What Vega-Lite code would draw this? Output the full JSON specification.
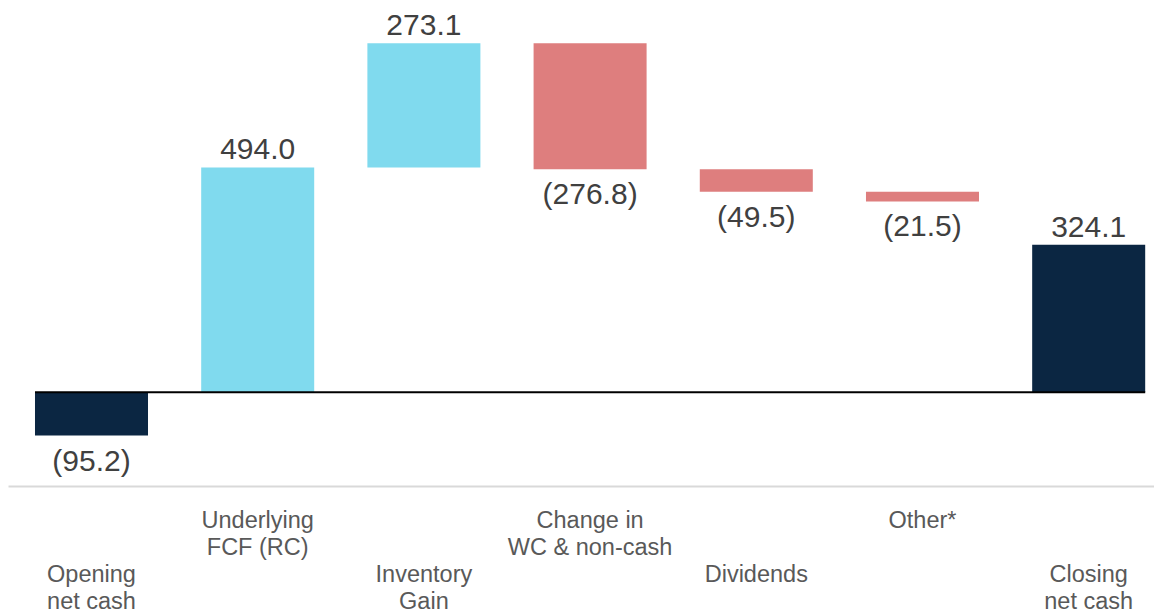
{
  "$schema": "https://vega.github.io/schema/vega-lite/v6.json",
  "width": 1146,
  "height": 486,
  "autosize": {"type": "none"},
  "padding": {"left": 8, "top": 0, "right": 0, "bottom": 127},
  "background": "white",
  "config": {"view": {"stroke": null}, "font": "Liberation Sans"},
  "data": {
    "values": [
      {"category": "Opening\nnet cash", "start": 0, "end": -95.2, "kind": "total", "label": "(95.2)"},
      {"category": "Underlying\nFCF (RC)", "start": 0, "end": 494.0, "kind": "increase", "label": "494.0"},
      {"category": "Inventory\nGain", "start": 494.0, "end": 767.1, "kind": "increase", "label": "273.1"},
      {"category": "Change in\nWC & non-cash", "start": 767.1, "end": 490.3, "kind": "decrease", "label": "(276.8)"},
      {"category": "Dividends", "start": 490.3, "end": 440.8, "kind": "decrease", "label": "(49.5)"},
      {"category": "Other*", "start": 440.8, "end": 419.3, "kind": "decrease", "label": "(21.5)"},
      {"category": "Closing\nnet cash", "start": 0, "end": 324.1, "kind": "total", "label": "324.1"}
    ]
  },
  "encoding": {
    "x": {
      "field": "category",
      "type": "nominal",
      "sort": null,
      "scale": {"paddingInner": 0.32, "paddingOuter": 0.1077, "align": 0.754},
      "axis": {
        "title": null,
        "domain": true,
        "domainColor": "#d9d9d9",
        "domainWidth": 2,
        "ticks": false,
        "tickSize": 0,
        "labelAngle": 0,
        "labelExpr": "split(datum.value, '\\n')",
        "labelFontSize": 23.5,
        "labelColor": "#595959",
        "labelLineHeight": 27,
        "labelBaseline": "top",
        "labelFont": "Liberation Sans",
        "labelPadding": {"condition": {"test": "round(datum.index*6) % 2 == 0", "value": 76}, "value": 22}
      }
    }
  },
  "layer": [
    {
      "mark": {"type": "bar"},
      "encoding": {
        "y": {"field": "start", "type": "quantitative", "scale": {"domain": [-206, 862], "nice": false, "zero": false}, "axis": null},
        "y2": {"field": "end"},
        "color": {
          "field": "kind",
          "type": "nominal",
          "scale": {"domain": ["total", "increase", "decrease"], "range": ["#0B2642", "#80DAEE", "#DE7E7E"]},
          "legend": null
        }
      }
    },
    {
      "data": {"values": [{"baseline": 0}]},
      "mark": {"type": "rule", "color": "black", "strokeWidth": 2},
      "encoding": {
        "x": {"datum": "Opening\nnet cash", "bandPosition": 0},
        "x2": {"datum": "Closing\nnet cash", "bandPosition": 1},
        "y": {"field": "baseline", "type": "quantitative"}
      }
    },
    {
      "transform": [{"filter": "datum.end >= datum.start"}],
      "mark": {"type": "text", "align": "center", "baseline": "alphabetic", "dy": -8, "fontSize": 30, "color": "#404040", "font": "Liberation Sans"},
      "encoding": {
        "y": {"field": "end", "type": "quantitative"},
        "text": {"field": "label", "type": "nominal"}
      }
    },
    {
      "transform": [{"filter": "datum.end < datum.start"}],
      "mark": {"type": "text", "align": "center", "baseline": "alphabetic", "dy": 35, "fontSize": 30, "color": "#404040", "font": "Liberation Sans"},
      "encoding": {
        "y": {"field": "end", "type": "quantitative"},
        "text": {"field": "label", "type": "nominal"}
      }
    }
  ]
}
